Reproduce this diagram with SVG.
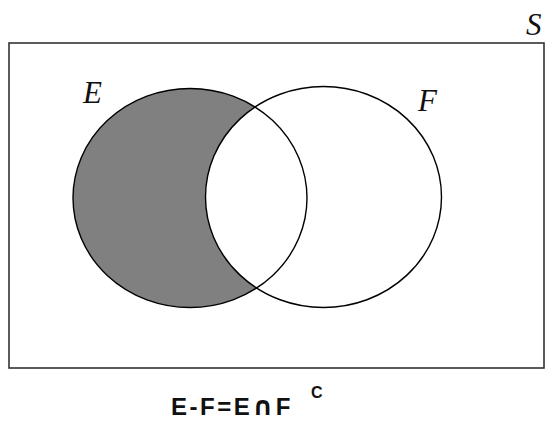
<svg xmlns="http://www.w3.org/2000/svg" width="549" height="426" viewBox="0 0 549 426">
<style>
.lbl{font-family:"Liberation Serif","Times New Roman",serif;font-style:italic;font-size:31px;fill:#111}
.ring{fill:none;stroke:#000;stroke-width:1.4}
.f{font-family:"Liberation Sans",Arial,sans-serif;font-weight:bold;fill:#111}
</style>
<rect width="549" height="426" fill="#fff"/>
<g id="universe">
<rect x="9" y="43" width="535" height="325" fill="#fff" stroke="#333" stroke-width="1.6"/>
<text class="lbl" x="526" y="35">S</text>
</g>
<g id="shade">
<ellipse cx="190" cy="198" rx="117" ry="109.5" fill="#808080"/>
<ellipse cx="323.5" cy="197" rx="118" ry="110.5" fill="#fff"/>
</g>
<g id="E">
<ellipse class="ring" cx="190" cy="198" rx="117" ry="109.5"/>
<text class="lbl" x="83" y="103">E</text>
</g>
<g id="F">
<ellipse class="ring" cx="323.5" cy="197" rx="118" ry="110.5"/>
<text class="lbl" x="418" y="111">F</text>
</g>
<g id="formula">
<text class="f" x="171" y="415" font-size="24" letter-spacing="2.5">E-F=E<tspan font-family="DejaVu Sans" font-size="26">∩</tspan>F</text>
<text class="f" x="311" y="398" font-size="16">C</text>
</g>
</svg>
